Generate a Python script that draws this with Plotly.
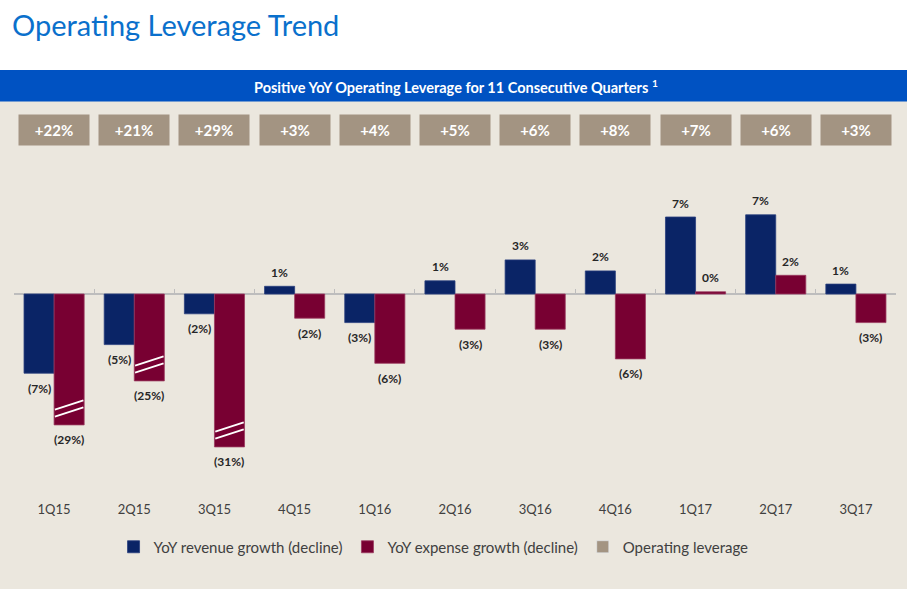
import plotly.graph_objects as go

# ---------------- data ----------------
quarters = ['1Q15', '2Q15', '3Q15', '4Q15', '1Q16', '2Q16', '3Q16', '4Q16', '1Q17', '2Q17', '3Q17']
revenue_growth = [-7.2, -4.6, -1.8, 0.7, -2.6, 1.2, 3.1, 2.1, 7.0, 7.2, 0.9]
expense_growth = [-29, -25, -31, -2.2, -6.3, -3.2, -3.2, -5.9, 0.2, 1.7, -2.6]
# bars drawn with an axis break (shortened length shown in the chart)
expense_broken_length = [-11.9, -7.9, -13.9, None, None, None, None, None, None, None, None]
operating_leverage = [22, 21, 29, 3, 4, 5, 6, 8, 7, 6, 3]

title_text = 'Operating Leverage Trend'
banner_text = 'Positive YoY Operating Leverage for 11 Consecutive Quarters <sup>1</sup>'

# ---------------- style ----------------
W, H = 907, 589
NAVY = '#0A2466'
MAROON = '#780032'
BOX = '#A39482'
BEIGE = '#EBE7DE'
BANNER = '#0052C2'
TITLE = '#0A70CC'
FONT = 'Lato'

expense_drawn = [b if b is not None else e for e, b in zip(expense_growth, expense_broken_length)]


def fmt(v):
    r = int(round(abs(v)))
    return f'({r}%)' if v < 0 else f'{r}%'


def py(px):
    return 1 - px / H


yrange = [-17.5, 13]
ydom = [py(486.5), py(151)]
zero_pos = ydom[0] + (0 - yrange[0]) / (yrange[1] - yrange[0]) * (ydom[1] - ydom[0])

fig = go.Figure()
fig.add_trace(go.Bar(x=quarters, y=revenue_growth, name='YoY revenue growth (decline)',
                     marker=dict(color=NAVY, line=dict(color='#2A3F7E', width=0.8))))
fig.add_trace(go.Bar(x=quarters, y=expense_drawn, name='YoY expense growth (decline)',
                     marker=dict(color=MAROON, line=dict(color='#9A3A60', width=0.8))))
fig.add_trace(go.Bar(x=quarters, y=[None] * len(quarters), name='Operating leverage',
                     marker=dict(color=BOX), xaxis='x2', showlegend=True))

shapes = [
    dict(type='rect', xref='paper', yref='paper', x0=0, x1=1, y0=0, y1=py(101),
         fillcolor=BEIGE, line=dict(width=0), layer='below'),
    dict(type='rect', xref='paper', yref='paper', x0=0, x1=1, y0=py(101.5), y1=py(70),
         fillcolor=BANNER, line=dict(width=0), layer='below'),
]

annotations = [
    dict(text=title_text, xref='paper', yref='paper', x=10 / W, y=py(25), xanchor='left',
         yanchor='middle', showarrow=False, font=dict(family=FONT, size=29, color=TITLE)),
    dict(text=banner_text, xref='paper', yref='paper', x=0.503, y=py(86), xanchor='center',
         yanchor='middle', showarrow=False, font=dict(family=FONT, size=14.5, color='white', weight='bold')),
]

# operating leverage boxes
for q, v in zip(quarters, operating_leverage):
    annotations.append(dict(text=f'+{v}%', xref='x', yref='paper', x=q, y=py(129.5),
                            xanchor='center', yanchor='middle', showarrow=False,
                            bgcolor=BOX, width=68, height=28,
                            font=dict(family=FONT, size=15, color='white', weight='bold')))

# value labels
for i, q in enumerate(quarters):
    for val, drawn, shift in ((revenue_growth[i], revenue_growth[i], -15),
                              (expense_growth[i], expense_drawn[i], 15)):
        annotations.append(dict(text=fmt(val), xref='x', yref='y', x=q, y=drawn,
                                xshift=shift, yshift=14 if drawn >= 0 else -15,
                                xanchor='center', yanchor='middle', showarrow=False,
                                font=dict(family=FONT, size=12, color='#262626', weight='bold')))

# break marks on shortened bars
for i, b in enumerate(expense_broken_length):
    if b is None:
        continue
    for lo, hi in ((0.75, 1.6), (1.38, 2.23)):
        shapes.append(dict(type='line', xref='x', yref='y', x0=i + 0.01, x1=i + 0.365,
                           y0=b + lo, y1=b + hi, line=dict(color='white', width=1.8)))

fig.update_layout(
    width=W, height=H, autosize=False,
    margin=dict(l=0, r=0, t=0, b=0),
    paper_bgcolor='white', plot_bgcolor='rgba(0,0,0,0)',
    barmode='group', bargap=0.25, bargroupgap=0,
    font=dict(family=FONT, color='#404040'),
    xaxis=dict(type='category', domain=[14 / W, 896 / W], range=[-0.5, 10.5],
               showgrid=False, zeroline=False, showline=False,
               ticks='outside', ticklen=11, tickcolor='rgba(0,0,0,0)',
               tickfont=dict(family=FONT, size=13, color='#404040')),
    xaxis2=dict(type='category', overlaying='x', anchor='free', position=zero_pos,
                domain=[14 / W, 896 / W], range=[-0.5, 10.5], categoryorder='array',
                categoryarray=quarters, showgrid=False, zeroline=False,
                showline=True, linecolor='#BDBDBD', linewidth=1.5,
                ticks='inside', tickson='boundaries', ticklen=4, tickcolor='#BDBDBD',
                showticklabels=False, layer='below traces'),
    yaxis=dict(domain=ydom, range=yrange, visible=False, showgrid=False, zeroline=False),
    legend=dict(orientation='h', x=0.478, xanchor='center', y=py(547), yanchor='middle',
                font=dict(family=FONT, size=15, color='#404040'), bgcolor='rgba(0,0,0,0)',
                itemwidth=30, traceorder='normal'),
    shapes=shapes, annotations=annotations,
)

fig.write_html('out.html')
